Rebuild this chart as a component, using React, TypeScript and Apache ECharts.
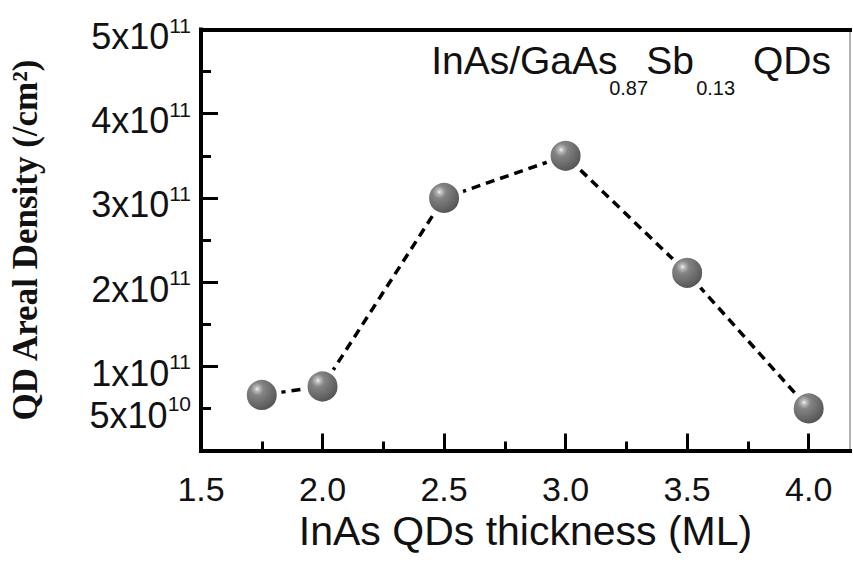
import React, { useEffect, useRef } from "react";
import * as echarts from "echarts";

// InAs QD areal density versus deposited InAs thickness
const THICKNESS_ML = [1.75, 2.0, 2.5, 3.0, 3.5, 4.0];
const AREAL_DENSITY = [6.6e10, 7.6e10, 3.0e11, 3.5e11, 2.11e11, 5.0e10];

// Axis ticks and labels
const X_LABEL_VALUES = [1.5, 2.0, 2.5, 3.0, 3.5, 4.0];
const X_MAJOR_TICKS = [2.0, 2.5, 3.0, 3.5, 4.0];
const X_MINOR_TICKS = [1.75, 2.25, 2.75, 3.25, 3.75];
const Y_LABEL_VALUES = [1e11, 2e11, 3e11, 4e11, 5e11];
const Y_MINOR_LABEL_VALUES = [5e10];
const Y_MAJOR_TICKS = [1e11, 2e11, 3e11, 4e11, 5e11];
const Y_MINOR_TICKS = [5e10, 1.5e11, 2.5e11, 3.5e11, 4.5e11];

const X_MIN = 1.5;
const X_MAX = 4.17;
const Y_MIN = 0;
const Y_MAX = 5e11;

const SANS = "'Liberation Sans', Arial, Helvetica, sans-serif";
const SERIF = "'Liberation Serif', 'Times New Roman', serif";

function sciLabel(v: number): string {
  const exp = Math.floor(Math.log10(v) + 1e-9);
  const mant = Math.round(v / Math.pow(10, exp));
  return `{m|${mant}x10}{s|${exp}}`;
}

const sciRich = {
  m: {
    fontFamily: SANS,
    fontSize: 36,
    lineHeight: 30,
    padding: [14, 0, 0, 0],
    color: "#111",
  },
  s: {
    fontFamily: SANS,
    fontSize: 21,
    lineHeight: 16,
    verticalAlign: "top",
    color: "#111",
  },
};

// Sample label: main text with subscripted composition fractions
const MAIN_SIZE = 39;
const SUB_SIZE = 20;
const SAMPLE_PARTS: { t: string; sub: boolean; w: number }[] = [
  { t: "InAs/GaAs", sub: false, w: 178 },
  { t: "0.87", sub: true, w: 37 },
  { t: "Sb", sub: false, w: 50 },
  { t: "0.13", sub: true, w: 46 },
  { t: " QDs", sub: false, w: 83 },
];

export default function App() {
  const ref = useRef<HTMLDivElement>(null);

  useEffect(() => {
    if (!ref.current) return;
    const chart = echarts.init(ref.current, undefined, { renderer: "svg" });

    const sphere = new echarts.graphic.RadialGradient(0.37, 0.33, 0.62, [
      { offset: 0, color: "#f6f6f6" },
      { offset: 0.1, color: "#bdbdbd" },
      { offset: 0.3, color: "#848484" },
      { offset: 0.7, color: "#6a6a6a" },
      { offset: 1, color: "#565656" },
    ]);

    // one rich style per fragment, each with a fixed box width
    const sampleRich: Record<string, any> = {};
    const sampleText = SAMPLE_PARTS.map((p, i) => {
      const key = `p${i}`;
      const size = p.sub ? SUB_SIZE : MAIN_SIZE;
      sampleRich[key] = {
        fontFamily: SANS,
        fontWeight: "normal",
        fontSize: size,
        lineHeight: size,
        width: p.w,
        align: "left",
        verticalAlign: "top",
        padding: p.sub ? [37, 0, 0, 0] : 0,
        color: "#111",
      };
      return `{${key}|${p.t}}`;
    }).join("");

    const hiddenLabel = { show: false };
    const noSplit = { show: false };

    chart.setOption({
      animation: false,
      backgroundColor: "#ffffff",
      grid: { left: 198.5, right: 3, top: 29.5, bottom: 116.5, containLabel: false },
      title: {
        text: sampleText,
        right: 22,
        top: 41,
        padding: 0,
        textStyle: { fontWeight: "normal", rich: sampleRich },
      },
      xAxis: [
        {
          type: "value",
          position: "bottom",
          min: X_MIN,
          max: X_MAX,
          name: "InAs QDs thickness (ML)",
          nameLocation: "middle",
          nameGap: 55,
          nameTextStyle: { fontFamily: SANS, fontSize: 41, color: "#111" },
          axisLine: { onZero: false, lineStyle: { color: "#000", width: 4, cap: "square" } },
          axisTick: {
            show: true,
            inside: true,
            length: 17,
            customValues: X_MAJOR_TICKS,
            lineStyle: { color: "#000", width: 3 },
          },
          axisLabel: {
            customValues: X_LABEL_VALUES,
            hideOverlap: false,
            margin: 21,
            fontFamily: SANS,
            fontSize: 34,
            color: "#111",
            formatter: (v: number) => v.toFixed(1),
          },
          splitLine: noSplit,
        },
        {
          type: "value",
          position: "bottom",
          min: X_MIN,
          max: X_MAX,
          axisLine: { show: false, onZero: false },
          axisTick: {
            show: true,
            inside: true,
            length: 9,
            customValues: X_MINOR_TICKS,
            lineStyle: { color: "#000", width: 3 },
          },
          axisLabel: hiddenLabel,
          splitLine: noSplit,
        },
        {
          type: "value",
          position: "top",
          min: X_MIN,
          max: X_MAX,
          axisLine: { show: true, onZero: false, lineStyle: { color: "#000", width: 4, cap: "square" } },
          axisTick: { show: false },
          axisLabel: hiddenLabel,
          splitLine: noSplit,
        },
      ],
      yAxis: [
        {
          type: "value",
          position: "left",
          min: Y_MIN,
          max: Y_MAX,
          name: "QD Areal Density (/cm²)",
          nameLocation: "middle",
          nameRotate: 90,
          nameGap: 158,
          nameTextStyle: { fontFamily: SERIF, fontWeight: "bold", fontSize: 35, color: "#111" },
          axisLine: { onZero: false, lineStyle: { color: "#000", width: 4, cap: "square" } },
          axisTick: {
            show: true,
            inside: true,
            length: 17,
            customValues: Y_MAJOR_TICKS,
            lineStyle: { color: "#000", width: 3 },
          },
          axisLabel: {
            customValues: Y_LABEL_VALUES,
            hideOverlap: false,
            margin: 10,
            formatter: (v: number) => sciLabel(v),
            rich: sciRich,
          },
          splitLine: noSplit,
        },
        {
          type: "value",
          position: "left",
          min: Y_MIN,
          max: Y_MAX,
          axisLine: { show: false, onZero: false },
          axisTick: {
            show: true,
            inside: true,
            length: 10,
            customValues: Y_MINOR_TICKS,
            lineStyle: { color: "#000", width: 3 },
          },
          axisLabel: {
            customValues: Y_MINOR_LABEL_VALUES,
            hideOverlap: false,
            margin: 10,
            formatter: (v: number) => sciLabel(v),
            rich: sciRich,
          },
          splitLine: noSplit,
        },
        {
          type: "value",
          position: "right",
          min: Y_MIN,
          max: Y_MAX,
          axisLine: { show: true, onZero: false, lineStyle: { color: "#9a9a9a", width: 1.5 } },
          axisTick: { show: false },
          axisLabel: hiddenLabel,
          splitLine: noSplit,
        },
      ],
      series: [
        {
          type: "line",
          xAxisIndex: 0,
          yAxisIndex: 0,
          data: THICKNESS_ML.map((x, i) => [x, AREAL_DENSITY[i]]),
          symbol: "circle",
          symbolSize: 35,
          silent: true,
          itemStyle: { color: sphere, borderColor: "#ffffff", borderWidth: 5 },
          lineStyle: { color: "#000", width: 3.5, type: [9, 6] },
          z: 3,
        },
      ],
    });

    return () => chart.dispose();
  }, []);

  return (
    <div
      ref={ref}
      style={{ position: "fixed", left: 0, top: 0, width: 853, height: 567, background: "#fff" }}
    />
  );
}
